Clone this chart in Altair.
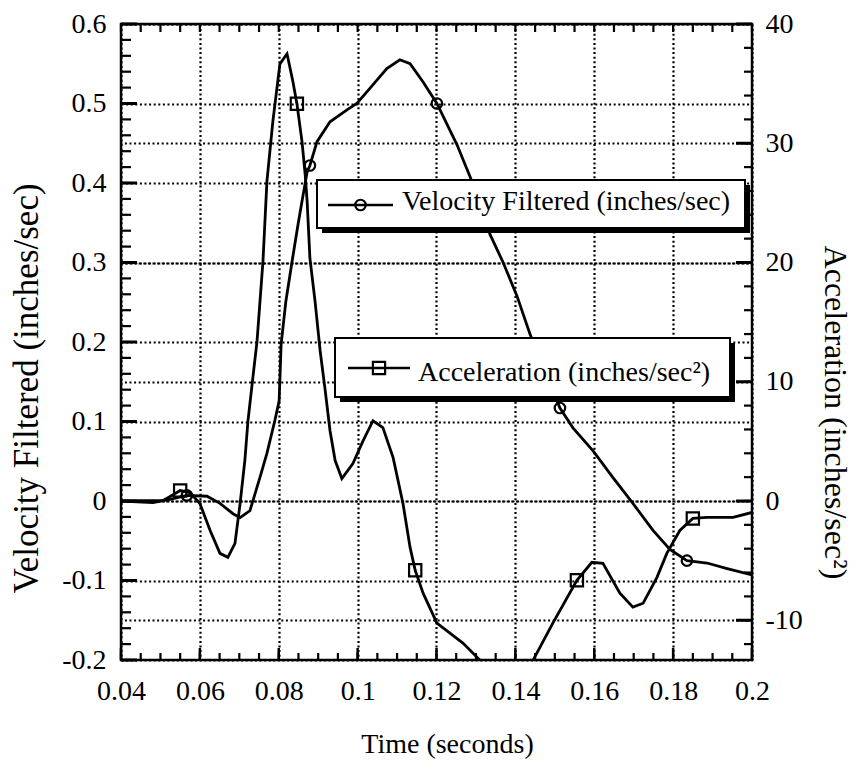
import altair as alt
import pandas as pd
import numpy as np

# ---------------- data ----------------
vel_t = [0.0400, 0.0481, 0.0524, 0.0567, 0.0618, 0.0651, 0.0684, 0.0702, 0.0727, 0.0752,
         0.0770, 0.0790, 0.0801, 0.0806, 0.0818, 0.0834, 0.0849, 0.0859, 0.0872, 0.0879,
         0.0897, 0.0930, 0.0973, 0.0998, 0.1031, 0.1074, 0.1107, 0.1133, 0.1166, 0.1201,
         0.1252, 0.1290, 0.1336, 0.1369, 0.1404, 0.1437, 0.1513, 0.1546, 0.1597, 0.1648,
         0.1698, 0.1749, 0.1792, 0.1835, 0.1886, 0.1937, 0.2000]
vel_v = [0.000, -0.002, 0.002, 0.007, 0.006, -0.003, -0.016, -0.021, -0.012, 0.029,
         0.060, 0.101, 0.126, 0.197, 0.251, 0.302, 0.348, 0.377, 0.414, 0.422,
         0.452, 0.477, 0.492, 0.500, 0.519, 0.544, 0.555, 0.550, 0.527, 0.500,
         0.448, 0.402, 0.335, 0.300, 0.258, 0.210, 0.117, 0.092, 0.063, 0.029,
         -0.003, -0.037, -0.061, -0.075, -0.078, -0.085, -0.093]
vel_marker_idx = [3, 19, 29, 36, 43]

acc_t = [0.0400, 0.0507, 0.0529, 0.0550, 0.0575, 0.0600, 0.0626, 0.0651, 0.0671, 0.0689,
         0.0702, 0.0714, 0.0722, 0.0732, 0.0745, 0.0760, 0.0770, 0.0785, 0.0803, 0.0821,
         0.0836, 0.0846, 0.0859, 0.0867, 0.0872, 0.0879, 0.0892, 0.0905, 0.0917, 0.0930,
         0.0943, 0.0960, 0.0988, 0.1014, 0.1039, 0.1064, 0.1090, 0.1115, 0.1133, 0.1146,
         0.1166, 0.1201, 0.1267, 0.1310, 0.1345, 0.1385, 0.1420, 0.1445, 0.1495, 0.1556,
         0.1594, 0.1622, 0.1665, 0.1698, 0.1724, 0.1759, 0.1784, 0.1817, 0.1850, 0.1886,
         0.1952, 0.2000]
acc_a = [0.0, 0.04, 0.46, 0.88, 0.71, -0.21, -2.47, -4.39, -4.72, -3.55,
         -0.21, 3.39, 6.73, 9.66, 13.42, 20.11, 26.80, 31.82, 36.66, 37.50,
         35.16, 33.32, 30.14, 27.38, 25.13, 20.36, 16.76, 12.58, 9.49, 5.89,
         3.39, 1.88, 3.14, 5.06, 6.73, 6.15, 3.64, -0.21, -3.89, -5.81,
         -7.73, -10.24, -11.91, -13.34, -15.5, -16.2, -15.0, -13.34, -10.24, -6.65,
         -5.14, -5.23, -7.73, -8.90, -8.57, -6.40, -4.39, -2.47, -1.46, -1.38,
         -1.38, -0.96]
acc_marker_idx = [3, 21, 39, 49, 58]

x_ticks = [0.04, 0.06, 0.08, 0.1, 0.12, 0.14, 0.16, 0.18, 0.2]
vel_ticks = [-0.2, -0.1, 0.0, 0.1, 0.2, 0.3, 0.4, 0.5, 0.6]
acc_ticks = [-10, 0, 10, 20, 30, 40]
x_minor = list(np.round(np.arange(0.04, 0.2001, 0.005), 4))
vel_minor = list(np.round(np.arange(-0.2, 0.6001, 0.02), 3))
acc_minor = list(range(-12, 41, 2))

vel_label = "Velocity Filtered (inches/sec)"
acc_label = "Acceleration (inches/sec\u00b2)"
x_label = "Time (seconds)"

# ---------------- chart ----------------
W, H = 631, 636
TOP = 16
FONT = "Liberation Serif"
MINUS_FIX = "replace(datum.label, '\u2212', '-')"

vel_df = pd.DataFrame({"t": vel_t, "v": vel_v})
acc_df = pd.DataFrame({"t": acc_t, "a": acc_a})
vel_mk = vel_df.iloc[vel_marker_idx]
acc_mk = acc_df.iloc[acc_marker_idx]

xscale = alt.Scale(domain=[0.04, 0.2], nice=False, zero=False)
vscale = alt.Scale(domain=[-0.2, 0.6], nice=False, zero=False)
ascale = alt.Scale(domain=[-40 / 3, 40], nice=False, zero=False)

common = dict(grid=True, ticks=False, domain=False, labelFlush=False, labelOverlap=False,
              labelFont=FONT, titleFont=FONT, labelColor="black", titleColor="black",
              titleFontWeight="normal", gridColor="black", gridDash=[2, 2.6], gridWidth=2.2,
              gridOpacity=1)

x_axis = alt.Axis(values=x_ticks, format="~g", labelPadding=17, labelFontSize=28,
                  title=x_label, titleFontSize=28, titleX=326, titleY=84,
                  titleAlign="center", titleBaseline="middle", **common)
v_axis = alt.Axis(orient="left", values=vel_ticks, format="~g", labelExpr=MINUS_FIX,
                  labelPadding=15, labelFontSize=28,
                  title=vel_label, titleFontSize=35, titleAngle=-90, titleX=-95, titleY=364,
                  titleAlign="center", titleBaseline="middle", **common)
a_axis = alt.Axis(orient="right", values=acc_ticks, format="~g", labelExpr=MINUS_FIX,
                  labelPadding=13, labelFontSize=28,
                  title=acc_label, titleFontSize=32, titleAngle=90, titleX=82, titleY=388,
                  titleAlign="center", titleBaseline="middle", **common)

X = alt.X("t:Q", scale=xscale, axis=x_axis)
Xn = alt.X("t:Q", scale=xscale)

LW = 2.8

vel_line = alt.Chart(vel_df).mark_line(color="black", strokeWidth=LW, clip=True).encode(
    x=X, y=alt.Y("v:Q", scale=vscale, axis=v_axis))
vel_pts = alt.Chart(vel_mk).mark_point(shape="circle", size=110, filled=False, opacity=1,
                                        color="black", strokeWidth=2.2, clip=True).encode(
    x=Xn, y=alt.Y("v:Q", scale=vscale))

left_tick_minor = alt.Chart(pd.DataFrame({"v": vel_minor})).mark_rule(
    color="black", strokeWidth=2.2).encode(y=alt.Y("v:Q", scale=vscale),
                                          x=alt.value(0), x2=alt.value(10))
left_tick_major = alt.Chart(pd.DataFrame({"v": vel_ticks})).mark_rule(
    color="black", strokeWidth=3).encode(y=alt.Y("v:Q", scale=vscale),
                                        x=alt.value(0), x2=alt.value(16))
bot_tick_minor = alt.Chart(pd.DataFrame({"t": x_minor})).mark_rule(
    color="black", strokeWidth=2.2).encode(x=Xn, y=alt.value(H), y2=alt.value(H - 7))
bot_tick_major = alt.Chart(pd.DataFrame({"t": x_ticks})).mark_rule(
    color="black", strokeWidth=2.5).encode(x=Xn, y=alt.value(H), y2=alt.value(H - 12))
top_tick_minor = alt.Chart(pd.DataFrame({"t": x_minor})).mark_rule(
    color="black", strokeWidth=2.2).encode(x=Xn, y=alt.value(0), y2=alt.value(8))

acc_line = alt.Chart(acc_df).mark_line(color="black", strokeWidth=LW, clip=True).encode(
    x=Xn, y=alt.Y("a:Q", scale=ascale, axis=a_axis))
acc_pts = alt.Chart(acc_mk).mark_point(shape="square", size=150, filled=False, opacity=1,
                                        color="black", strokeWidth=2.2, clip=True).encode(
    x=Xn, y=alt.Y("a:Q", scale=ascale))
right_tick_minor = alt.Chart(pd.DataFrame({"a": acc_minor})).mark_rule(
    color="black", strokeWidth=2.2).encode(y=alt.Y("a:Q", scale=ascale),
                                          x=alt.value(W), x2=alt.value(W - 8))
right_tick_major = alt.Chart(pd.DataFrame({"a": acc_ticks})).mark_rule(
    color="black", strokeWidth=3).encode(y=alt.Y("a:Q", scale=ascale),
                                        x=alt.value(W), x2=alt.value(W - 16))

left_layer = alt.layer(vel_line, left_tick_minor, left_tick_major,
                       bot_tick_minor, bot_tick_major, top_tick_minor, vel_pts)
right_layer = alt.layer(acc_line, right_tick_minor, right_tick_major, acc_pts)

# ---------------- boxed legends ----------------
one = pd.DataFrame({"k": [0]})


def legend_box(x0, y0, x1, y1, lx0, lx1, ly, shape, msize, tx, ty, text):
    shadow = alt.Chart(one).mark_rect(color="black").encode(
        x=alt.value(x0 + 5), x2=alt.value(x1 + 5), y=alt.value(y0 + 5), y2=alt.value(y1 + 5))
    box = alt.Chart(one).mark_rect(fill="white", stroke="black", strokeWidth=2).encode(
        x=alt.value(x0), x2=alt.value(x1), y=alt.value(y0), y2=alt.value(y1))
    seg = alt.Chart(one).mark_rule(color="black", strokeWidth=2.3).encode(
        x=alt.value(lx0), x2=alt.value(lx1), y=alt.value(ly))
    sym = alt.Chart(one).mark_point(shape=shape, size=msize, filled=False, color="black",
                                    opacity=1, strokeWidth=2.2).encode(
        x=alt.value((lx0 + lx1) / 2), y=alt.value(ly))
    txt = alt.Chart(one).mark_text(font=FONT, fontSize=28, align="left", baseline="middle",
                                   color="black").encode(
        x=alt.value(tx), y=alt.value(ty), text=alt.value(text))
    return [shadow, box, seg, sym, txt]


leg_v = legend_box(196, 156, 624, 204, 207, 272, 181, "circle", 110, 281, 178, vel_label)
leg_a = legend_box(214, 314, 609, 373, 227, 289, 344, "square", 150, 297, 349, acc_label)

chart = alt.layer(
    alt.layer(left_layer, right_layer).resolve_scale(y="independent"),
    *leg_v, *leg_a,
).properties(
    width=W, height=H,
    autosize=alt.AutoSizeParams(type="none"),
    padding={"left": 113, "top": TOP, "right": 102, "bottom": 99},
    background="white",
).configure_view(
    stroke="black", strokeWidth=2.5,
)

chart.save("out.html", embed_options={"renderer": "svg", "actions": False})
